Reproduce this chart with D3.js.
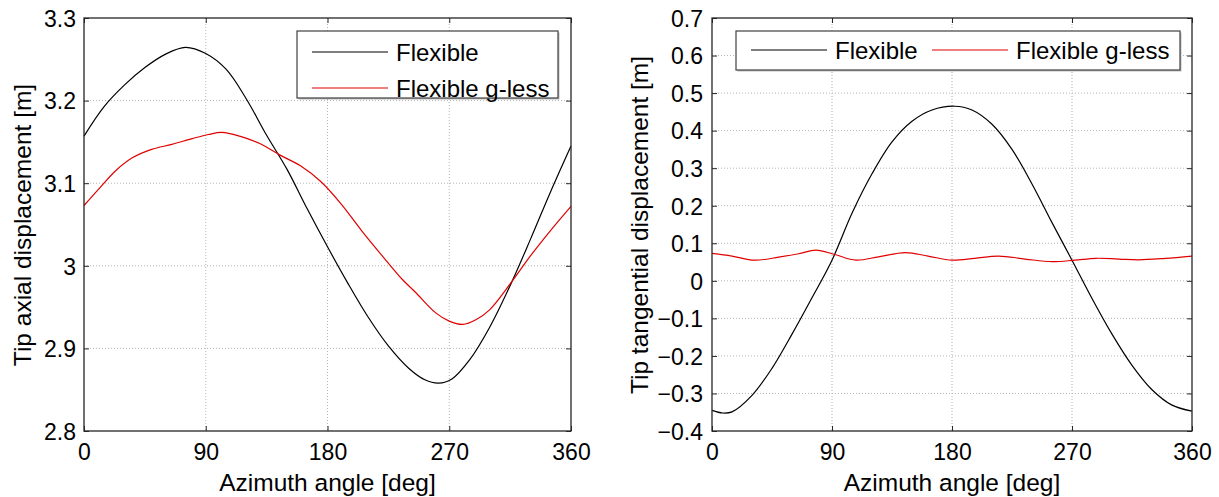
<!DOCTYPE html>
<html>
<head>
<meta charset="utf-8">
<script src="https://cdn.jsdelivr.net/npm/d3@7"></script>
<style>
  body { margin: 0; background: #fff; }
  text { font-family: "Liberation Sans", Arial, sans-serif; fill: #000; }
</style>
</head>
<body>
<div id="chart"></div>
<script>
//data (angle in deg, displacement in m)
const axialAngles = [0, 15, 30, 45, 60, 75, 90, 105, 120, 135, 150, 165, 180, 195, 210, 225, 240, 252, 262, 272, 285, 300, 315, 330, 345, 360];
const axialFlexible = [3.157, 3.193, 3.219, 3.240, 3.256, 3.2645, 3.257, 3.238, 3.202, 3.158, 3.117, 3.069, 3.023, 2.979, 2.938, 2.903, 2.876, 2.862, 2.858, 2.863, 2.886, 2.926, 2.976, 3.032, 3.090, 3.145];
const axialGlessAngles = [0, 12, 24, 36, 50, 65, 80, 92, 102, 115, 130, 145, 160, 175, 190, 205, 220, 235, 245, 260, 270, 280, 290, 300, 315, 330, 345, 360];
const axialGless = [3.073, 3.095, 3.116, 3.131, 3.141, 3.147, 3.154, 3.159, 3.1615, 3.157, 3.148, 3.134, 3.121, 3.102, 3.075, 3.043, 3.013, 2.984, 2.968, 2.943, 2.933, 2.929, 2.935, 2.947, 2.978, 3.012, 3.043, 3.072];

const tangAngles = [0, 8, 15, 30, 45, 60, 75, 90, 105, 120, 135, 150, 165, 182, 195, 210, 225, 240, 255, 270, 285, 300, 315, 330, 345, 360];
const tangFlexible = [-0.345, -0.352, -0.349, -0.305, -0.233, -0.142, -0.045, 0.055, 0.180, 0.285, 0.370, 0.425, 0.455, 0.465, 0.455, 0.417, 0.350, 0.258, 0.155, 0.055, -0.047, -0.142, -0.225, -0.290, -0.331, -0.347];
const tangGlessAngles = [0, 15, 32, 50, 65, 78, 92, 108, 125, 145, 162, 180, 197, 215, 235, 255, 272, 288, 305, 320, 340, 360];
const tangGless = [0.073, 0.066, 0.055, 0.063, 0.072, 0.082, 0.070, 0.055, 0.064, 0.075, 0.066, 0.055, 0.060, 0.066, 0.058, 0.051, 0.055, 0.060, 0.058, 0.056, 0.060, 0.066];

const xTicks = [0, 90, 180, 270, 360];
const axialTicks = [2.8, 2.9, 3, 3.1, 3.2, 3.3];
const tangTicks = [-0.4, -0.3, -0.2, -0.1, 0, 0.1, 0.2, 0.3, 0.4, 0.5, 0.6, 0.7];
const seriesNames = ["Flexible", "Flexible g-less"];
const seriesColors = ["#000000", "#e00000"];

const width = 1219, height = 497;
const svg = d3.select("#chart").append("svg")
  .attr("width", width)
  .attr("height", height);

//function to draw one panel
const drawPanel = (p) => {
  const x = d3.scaleLinear().domain([0, 360]).range([p.left, p.right]);
  const y = d3.scaleLinear().domain(p.yDomain).range([p.bottom, p.top]);
  const g = svg.append("g");

  //grid
  g.append("g").selectAll("line.vg").data(xTicks.slice(1, -1)).enter().append("line")
    .attr("x1", d => x(d)).attr("x2", d => x(d))
    .attr("y1", p.top).attr("y2", p.bottom)
    .attr("stroke", "#b4b4b4").attr("stroke-dasharray", "1,2");
  g.append("g").selectAll("line.hg").data(p.yTicks.slice(1, -1)).enter().append("line")
    .attr("x1", p.left).attr("x2", p.right)
    .attr("y1", d => y(d)).attr("y2", d => y(d))
    .attr("stroke", "#b4b4b4").attr("stroke-dasharray", "1,2");

  //lines
  const line = d3.line().x(d => x(d[0])).y(d => y(d[1])).curve(d3.curveCatmullRom.alpha(0.5));
  p.series.forEach((s, i) => {
    g.append("path")
      .datum(d3.zip(s.angles, s.values))
      .attr("fill", "none")
      .attr("stroke", seriesColors[i])
      .attr("stroke-width", 1.2)
      .attr("d", line);
  });

  //axes with inward ticks
  const fmt = d3.format("");
  g.append("g").attr("transform", `translate(0,${p.bottom})`)
    .call(d3.axisBottom(x).tickValues(xTicks).tickSize(-5).tickPadding(13).tickFormat(fmt));
  const left = g.append("g").attr("transform", `translate(${p.left},0)`)
    .call(d3.axisLeft(y).tickValues(p.yTicks).tickSize(-5).tickPadding(p.yPad).tickFormat(fmt));
  g.append("g").attr("transform", `translate(0,${p.top})`)
    .call(d3.axisTop(x).tickValues(xTicks).tickSize(-5).tickFormat(""));
  g.append("g").attr("transform", `translate(${p.right},0)`)
    .call(d3.axisRight(y).tickValues(p.yTicks).tickSize(-5).tickFormat(""));
  g.selectAll(".domain").remove();
  g.selectAll(".tick line").attr("stroke", "#262626");
  g.selectAll(".tick text").style("font-size", "23px").attr("fill", "#000");
  left.selectAll(".tick text").attr("dy", "0.36em");

  g.append("rect")
    .attr("x", p.left).attr("y", p.top)
    .attr("width", p.right - p.left).attr("height", p.bottom - p.top)
    .attr("fill", "none").attr("stroke", "#262626").attr("stroke-width", 1.3);

  //axis titles
  g.append("text")
    .attr("x", (p.left + p.right) / 2).attr("y", 491)
    .attr("text-anchor", "middle").style("font-size", "24.5px")
    .text("Azimuth angle [deg]");
  g.append("text")
    .attr("transform", `translate(${p.yLabelX},225) rotate(-90)`)
    .attr("text-anchor", "middle").style("font-size", "24.5px")
    .text(p.yLabel);

  //legend
  const lg = p.legend;
  g.append("rect")
    .attr("x", lg.x + 1.5).attr("y", lg.y + 1.5).attr("width", lg.w).attr("height", lg.h)
    .attr("fill", "#bdbdbd");
  g.append("rect")
    .attr("x", lg.x).attr("y", lg.y).attr("width", lg.w).attr("height", lg.h)
    .attr("fill", "#fff").attr("stroke", "#404040").attr("stroke-width", 1.2);
  lg.items.forEach((it, i) => {
    g.append("line")
      .attr("x1", it.x).attr("x2", it.x + 76)
      .attr("y1", it.y).attr("y2", it.y)
      .attr("stroke", seriesColors[i]).attr("stroke-width", 1.2);
    g.append("text")
      .attr("x", it.x + 84).attr("y", it.y + 8.5)
      .style("font-size", "24px")
      .text(seriesNames[i]);
  });
};

drawPanel({
  left: 84, right: 571, top: 18, bottom: 431,
  yDomain: [2.8, 3.3], yTicks: axialTicks, yPad: 8,
  yLabel: "Tip axial displacement [m]", yLabelX: 31,
  series: [
    { angles: axialAngles, values: axialFlexible },
    { angles: axialGlessAngles, values: axialGless }
  ],
  legend: { x: 297, y: 31, w: 261, h: 67, items: [{ x: 312, y: 52 }, { x: 312, y: 88 }] }
});

drawPanel({
  left: 712, right: 1192, top: 18, bottom: 431,
  yDomain: [-0.4, 0.7], yTicks: tangTicks, yPad: 9,
  yLabel: "Tip tangential displacement [m]", yLabelX: 648,
  series: [
    { angles: tangAngles, values: tangFlexible },
    { angles: tangGlessAngles, values: tangGless }
  ],
  legend: { x: 736, y: 31, w: 444, h: 39, items: [{ x: 751, y: 50 }, { x: 932, y: 50 }] }
});
</script>
</body>
</html>
